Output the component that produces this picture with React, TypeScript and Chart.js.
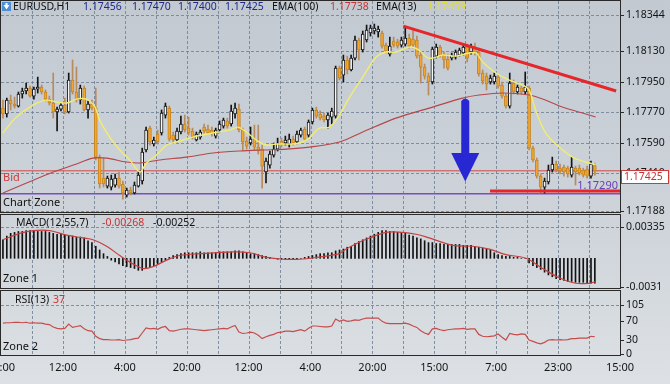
import React, { useEffect, useRef } from 'react';
import { Chart, registerables } from 'chart.js';

Chart.register(...registerables);

// ---------------- data ----------------
const xTickLabels = ['20:00', '12:00', '4:00', '20:00', '12:00', '4:00', '20:00', '15:00', '7:00', '23:00', '15:00'];

const opens = [
  1.17795, 1.17760, 1.17843, 1.17819, 1.17807, 1.17878, 1.17896, 1.17913, 1.17866, 1.17907,
  1.17919, 1.17890, 1.17848, 1.17825, 1.17772, 1.17789, 1.17813, 1.17772, 1.17961, 1.17890,
  1.17843, 1.17913, 1.17784, 1.17819, 1.17795, 1.17506, 1.17382, 1.17335, 1.17329, 1.17341,
  1.17382, 1.17347, 1.17282, 1.17312, 1.17294, 1.17335, 1.17365, 1.17548, 1.17677, 1.17583,
  1.17642, 1.17648, 1.17754, 1.17795, 1.17636, 1.17607, 1.17654, 1.17701, 1.17677, 1.17660,
  1.17607, 1.17624, 1.17683, 1.17671, 1.17666, 1.17630, 1.17666, 1.17689, 1.17719, 1.17701,
  1.17760, 1.17789, 1.17666, 1.17601, 1.17589, 1.17612, 1.17565, 1.17553, 1.17418, 1.17459,
  1.17518, 1.17553, 1.17601, 1.17589, 1.17583, 1.17612, 1.17595, 1.17636, 1.17671, 1.17636,
  1.17713, 1.17784, 1.17760, 1.17748, 1.17725, 1.17742, 1.17748, 1.18031, 1.17990, 1.18079,
  1.18020, 1.18090, 1.18197, 1.18138, 1.18197, 1.18238, 1.18250, 1.18244, 1.18238, 1.18167,
  1.18114, 1.18191, 1.18185, 1.18167, 1.18173, 1.18208, 1.18202, 1.18197, 1.18108, 1.18037,
  1.17984, 1.17949, 1.18102, 1.18155, 1.18114, 1.18084, 1.18090, 1.18096, 1.18108, 1.18120,
  1.18155, 1.18126, 1.18155, 1.18126, 1.18002, 1.17984, 1.17949, 1.17949, 1.17978, 1.17931,
  1.17866, 1.17807, 1.17943, 1.17890, 1.17913, 1.17890, 1.17913, 1.17559, 1.17489, 1.17394,
  1.17329, 1.17359, 1.17430, 1.17465, 1.17441, 1.17447, 1.17441, 1.17400, 1.17441, 1.17441,
  1.17430, 1.17435, 1.17394, 1.17456,
];
const highs = [
  1.17843, 1.17854, 1.17872, 1.17860, 1.17890, 1.17913, 1.17943, 1.17925, 1.17919, 1.17978,
  1.17931, 1.17902, 1.17866, 1.18002, 1.17801, 1.17825, 1.17854, 1.18002, 1.18079, 1.18037,
  1.17931, 1.17925, 1.17837, 1.17843, 1.17913, 1.17518, 1.17500, 1.17394, 1.17400, 1.17406,
  1.17418, 1.17365, 1.17323, 1.17329, 1.17359, 1.17418, 1.17559, 1.17683, 1.17689, 1.17624,
  1.17666, 1.17784, 1.17825, 1.17807, 1.17654, 1.17677, 1.17748, 1.17754, 1.17742, 1.17677,
  1.17654, 1.17666, 1.17701, 1.17695, 1.17683, 1.17677, 1.17719, 1.17736, 1.17736, 1.17813,
  1.17825, 1.17819, 1.17677, 1.17624, 1.17683, 1.17695, 1.17695, 1.17577, 1.17500, 1.17542,
  1.17589, 1.17618, 1.17618, 1.17630, 1.17642, 1.17630, 1.17660, 1.17677, 1.17683, 1.17725,
  1.17795, 1.17801, 1.17778, 1.17766, 1.17766, 1.17795, 1.18043, 1.18043, 1.18108, 1.18102,
  1.18108, 1.18220, 1.18208, 1.18250, 1.18285, 1.18285, 1.18291, 1.18279, 1.18250, 1.18179,
  1.18214, 1.18214, 1.18202, 1.18214, 1.18273, 1.18232, 1.18256, 1.18220, 1.18126, 1.18055,
  1.18002, 1.18155, 1.18173, 1.18167, 1.18126, 1.18114, 1.18120, 1.18138, 1.18149, 1.18167,
  1.18173, 1.18173, 1.18179, 1.18143, 1.18020, 1.18002, 1.17990, 1.18002, 1.17990, 1.17949,
  1.17878, 1.18002, 1.17961, 1.17931, 1.17925, 1.18008, 1.17925, 1.17571, 1.17500, 1.17406,
  1.17382, 1.17459, 1.17506, 1.17483, 1.17465, 1.17459, 1.17453, 1.17506, 1.17453, 1.17459,
  1.17441, 1.17453, 1.17483, 1.17470,
];
const lows = [
  1.17736, 1.17742, 1.17784, 1.17795, 1.17801, 1.17854, 1.17878, 1.17860, 1.17848, 1.17884,
  1.17878, 1.17837, 1.17813, 1.17736, 1.17660, 1.17778, 1.17760, 1.17766, 1.17878, 1.17831,
  1.17819, 1.17778, 1.17736, 1.17784, 1.17489, 1.17323, 1.17329, 1.17323, 1.17312, 1.17329,
  1.17323, 1.17258, 1.17270, 1.17282, 1.17288, 1.17329, 1.17347, 1.17536, 1.17577, 1.17571,
  1.17583, 1.17636, 1.17736, 1.17601, 1.17595, 1.17595, 1.17642, 1.17654, 1.17636, 1.17612,
  1.17601, 1.17612, 1.17648, 1.17642, 1.17630, 1.17618, 1.17654, 1.17677, 1.17677, 1.17689,
  1.17736, 1.17654, 1.17548, 1.17553, 1.17577, 1.17548, 1.17524, 1.17323, 1.17353, 1.17441,
  1.17506, 1.17542, 1.17565, 1.17577, 1.17565, 1.17577, 1.17583, 1.17624, 1.17601, 1.17624,
  1.17701, 1.17736, 1.17725, 1.17713, 1.17677, 1.17701, 1.17736, 1.17961, 1.17949, 1.17996,
  1.18014, 1.18079, 1.18079, 1.18126, 1.18185, 1.18220, 1.18232, 1.18214, 1.18149, 1.18120,
  1.18102, 1.18155, 1.18149, 1.18155, 1.18161, 1.18149, 1.18149, 1.18090, 1.17943, 1.17966,
  1.17872, 1.17937, 1.18090, 1.18096, 1.18031, 1.18020, 1.18079, 1.18084, 1.18102, 1.18108,
  1.18067, 1.18114, 1.18108, 1.17984, 1.17937, 1.17902, 1.17937, 1.17937, 1.17913, 1.17854,
  1.17795, 1.17795, 1.17878, 1.17878, 1.17878, 1.17878, 1.17548, 1.17477, 1.17382, 1.17294,
  1.17294, 1.17347, 1.17418, 1.17418, 1.17406, 1.17394, 1.17388, 1.17388, 1.17341, 1.17400,
  1.17388, 1.17382, 1.17382, 1.17400,
];
const closes = [
  1.17760, 1.17843, 1.17819, 1.17807, 1.17878, 1.17896, 1.17913, 1.17866, 1.17907, 1.17919,
  1.17890, 1.17848, 1.17825, 1.17772, 1.17789, 1.17813, 1.17772, 1.17961, 1.17890, 1.17843,
  1.17913, 1.17784, 1.17819, 1.17795, 1.17506, 1.17347, 1.17347, 1.17382, 1.17376, 1.17382,
  1.17335, 1.17294, 1.17312, 1.17294, 1.17341, 1.17400, 1.17536, 1.17666, 1.17595, 1.17607,
  1.17595, 1.17766, 1.17807, 1.17612, 1.17607, 1.17660, 1.17701, 1.17666, 1.17648, 1.17624,
  1.17642, 1.17654, 1.17660, 1.17648, 1.17642, 1.17666, 1.17701, 1.17725, 1.17689, 1.17778,
  1.17795, 1.17666, 1.17595, 1.17571, 1.17612, 1.17565, 1.17542, 1.17453, 1.17483, 1.17524,
  1.17553, 1.17589, 1.17577, 1.17607, 1.17612, 1.17589, 1.17642, 1.17666, 1.17612, 1.17713,
  1.17784, 1.17748, 1.17736, 1.17725, 1.17754, 1.17778, 1.18031, 1.17972, 1.18079, 1.18020,
  1.18090, 1.18197, 1.18138, 1.18232, 1.18256, 1.18267, 1.18267, 1.18261, 1.18161, 1.18132,
  1.18161, 1.18167, 1.18161, 1.18197, 1.18208, 1.18161, 1.18167, 1.18102, 1.18037, 1.17984,
  1.17949, 1.18143, 1.18155, 1.18108, 1.18079, 1.18031, 1.18108, 1.18126, 1.18138, 1.18155,
  1.18090, 1.18155, 1.18126, 1.17996, 1.17955, 1.17937, 1.17972, 1.17984, 1.17925, 1.17866,
  1.17807, 1.17943, 1.17890, 1.17919, 1.17890, 1.17919, 1.17559, 1.17489, 1.17394, 1.17329,
  1.17365, 1.17430, 1.17465, 1.17430, 1.17424, 1.17418, 1.17406, 1.17447, 1.17418, 1.17412,
  1.17400, 1.17394, 1.17465, 1.17425,
];

const ema13X = [0.5, 4.0, 8.3, 11.8, 14.4, 17.0, 19.5, 22.1, 24.3, 25.5, 28.1, 30.7, 33.3, 35.9, 37.6, 40.2, 42.8, 45.3, 49.6, 54.8, 59.1, 61.2, 63.4, 66.0, 68.6, 71.1, 74.6, 77.2, 79.7, 82.3, 84.9, 87.5, 90.1, 93.5, 97.0, 99.5, 102.1, 105.5, 108.1, 109.9, 111.6, 114.1, 117.6, 121.0, 122.8, 124.5, 127.9, 131.4, 134.8, 136.5, 138.2, 140.8, 144.3, 147.7, 151.1, 153.7];
const ema13Y = [1.17648, 1.17742, 1.17813, 1.17842, 1.17831, 1.17825, 1.17848, 1.17848, 1.17801, 1.17724, 1.17624, 1.17547, 1.17488, 1.17418, 1.17471, 1.17518, 1.17577, 1.17595, 1.17624, 1.17648, 1.17665, 1.17683, 1.17654, 1.17606, 1.17577, 1.17583, 1.17583, 1.17589, 1.17618, 1.17677, 1.17683, 1.17754, 1.17860, 1.17978, 1.18096, 1.18126, 1.18126, 1.18155, 1.18137, 1.18096, 1.18090, 1.18108, 1.18102, 1.18120, 1.18120, 1.18067, 1.18002, 1.17960, 1.17931, 1.17901, 1.17783, 1.17648, 1.17565, 1.17506, 1.17477, 1.17462];

const ema100X = [0.5, 6.6, 13.5, 18.7, 23.8, 27.3, 32.4, 35.9, 41.0, 47.9, 54.8, 61.7, 67.7, 73.7, 79.7, 87.5, 93.5, 102.1, 110.7, 119.3, 123.6, 129.6, 136.5, 140.8, 145.1, 150.3, 153.7];
const ema100Y = [1.17294, 1.17353, 1.17418, 1.17459, 1.17500, 1.17500, 1.17477, 1.17471, 1.17489, 1.17506, 1.17530, 1.17542, 1.17548, 1.17553, 1.17565, 1.17595, 1.17654, 1.17736, 1.17795, 1.17854, 1.17872, 1.17884, 1.17872, 1.17842, 1.17801, 1.17766, 1.17742];

const macdHist = [
  0.0020, 0.0024, 0.0027, 0.0028, 0.0029, 0.0029, 0.0030, 0.0030, 0.0030, 0.0029,
  0.0029, 0.0029, 0.0028, 0.0027, 0.0026, 0.0026, 0.0025, 0.0024, 0.0024, 0.0023,
  0.0023, 0.0022, 0.0019, 0.0017, 0.0013, 0.0009, 0.0005, 0.0002, -0.0002, -0.0004,
  -0.0006, -0.0008, -0.0009, -0.0010, -0.0011, -0.0013, -0.0013, -0.0011, -0.0009, -0.0008,
  -0.0006, -0.0004, -0.0002, 0.0001, 0.0003, 0.0004, 0.0005, 0.0006, 0.0006, 0.0006,
  0.0006, 0.0007, 0.0006, 0.0006, 0.0006, 0.0006, 0.0007, 0.0007, 0.0007, 0.0007,
  0.0008, 0.0008, 0.0007, 0.0006, 0.0005, 0.0005, 0.0004, 0.0003, 0.0002, 0.0001,
  0.0000, -0.0001, -0.0001, -0.0001, -0.0001, -0.0001, -0.0001, 0.0000, 0.0001, 0.0002,
  0.0003, 0.0004, 0.0005, 0.0005, 0.0006, 0.0006, 0.0008, 0.0009, 0.0010, 0.0012,
  0.0013, 0.0016, 0.0018, 0.0020, 0.0022, 0.0024, 0.0026, 0.0028, 0.0030, 0.0030,
  0.0029, 0.0029, 0.0028, 0.0028, 0.0027, 0.0025, 0.0024, 0.0022, 0.0021, 0.0019,
  0.0017, 0.0017, 0.0016, 0.0016, 0.0015, 0.0015, 0.0015, 0.0015, 0.0015, 0.0014,
  0.0014, 0.0014, 0.0013, 0.0012, 0.0011, 0.0010, 0.0009, 0.0006, 0.0004, 0.0003,
  0.0002, 0.0002, 0.0001, 0.0001, 0.0000, 0.0000, -0.0005, -0.0008, -0.0010, -0.0012,
  -0.0015, -0.0018, -0.0020, -0.0022, -0.0023, -0.0024, -0.0025, -0.0025, -0.0026, -0.0026,
  -0.0026, -0.0027, -0.0027, -0.00268,
];
const signalX = [0.5, 4.9, 8.3, 12.6, 17.0, 21.2, 23.8, 27.3, 30.7, 34.1, 36.7, 39.3, 42.8, 46.2, 51.4, 60.0, 64.3, 68.6, 72.9, 77.2, 81.5, 87.5, 89.2, 93.5, 99.5, 103.8, 107.3, 110.7, 116.7, 121.9, 126.2, 130.5, 135.7, 140.0, 144.3, 148.6, 152.0, 153.7];
const signalY = [0.0020, 0.0027, 0.0030, 0.0030, 0.0025, 0.0022, 0.0020, 0.0013, 0.0003, -0.0006, -0.0011, -0.0009, -0.0002, 0.0003, 0.0005, 0.0007, 0.0006, 0.0001, -0.0001, -0.0001, 0.0001, 0.0005, 0.0010, 0.0019, 0.0028, 0.0028, 0.0026, 0.0022, 0.0014, 0.0013, 0.0010, 0.0004, 0.0000, -0.0011, -0.0021, -0.0027, -0.0027, -0.00252];

const rsi = [
  66, 67, 67, 68, 68, 67, 68, 66, 67, 66,
  66, 64, 63, 58, 55, 54, 55, 64, 57, 59,
  61, 54, 50, 49, 38, 33, 31, 31, 30, 30,
  31, 29, 30, 31, 33, 34, 45, 56, 54, 55,
  53, 57, 59, 50, 49, 51, 53, 54, 54, 53,
  52, 51, 50, 51, 52, 53, 54, 55, 54, 58,
  61, 47, 44, 45, 47, 45, 40, 33, 37, 40,
  42, 46, 47, 49, 49, 48, 50, 52, 49, 55,
  60, 60, 59, 58, 58, 60, 75, 70, 73, 70,
  71, 73, 72, 75, 77, 77, 77, 77, 70, 66,
  65, 65, 65, 65, 66, 64, 60, 57, 50, 45,
  42, 54, 55, 52, 50, 52, 53, 54, 54, 55,
  53, 54, 54, 42, 38, 37, 38, 39, 43, 36,
  30, 44, 42, 41, 43, 42, 30, 27, 24, 22,
  25, 30, 31, 30, 31, 30, 31, 33, 33, 34,
  34, 34, 38, 37,
];

const priceTicks = [1.18344, 1.1813, 1.1795, 1.1777, 1.1759, 1.1741, 1.17188];
const priceTickLabels = ['1.18344', '1.18130', '1.17950', '1.17770', '1.17590', '1.17410', '1.17188'];
const macdTicks = [0.00335, -0.0031];
const macdTickLabels = ['0.00335', '-0.0031'];
const rsiTicks = [105, 70, 30, 0];
const rsiTickLabels = ['105', '70', '30', '0'];

const bidPrice = 1.17425;
const bidLabel = '1.17425';
const zonePrice = 1.1729;
const zoneLabel = '1.17290';
const trendX = [104, 159];
const trendY = [1.18279, 1.17896];
const supportX = [126.4, 160];
const supportY = [1.17306, 1.17306];
const arrowX = 120.0;
const arrowTop = 1.17854;
const arrowNeck = 1.1753;
const arrowTip = 1.17362;

const headerOHLC = ['1.17456', '1.17470', '1.17400', '1.17425'];
const ema100Label = '1.17738';
const ema13Label = '1.17459';
const macdMain = '-0.00268';
const macdSignal = '-0.00252';
const rsiValue = '37';

// ---------------- styling ----------------
const FONT = '"Noto Sans", "DejaVu Sans", sans-serif';
const GRID = 'rgba(108,124,146,0.8)';
const FRAME = '#2a2a2a';
const X_MIN = 0;
const X_MAX = 160;
const gridVals = Array.from({ length: 21 }, (_, k) => k * 8);

function txt(ctx: CanvasRenderingContext2D, s: string, x: number, y: number, color: string, size = 10.5, align: CanvasTextAlign = 'left') {
  ctx.fillStyle = color;
  ctx.font = `${size}px ${FONT}`;
  ctx.textAlign = align;
  ctx.textBaseline = 'middle';
  ctx.fillText(s, x, y);
}

function panelPlugin(cfg: { hGrid: number[]; yTicks: number[]; draw?: (c: any) => void; over?: (c: any) => void }) {
  return {
    id: 'panelDeco',
    beforeDatasetsDraw(chart: any) {
      const { ctx, chartArea: a, scales } = chart;
      ctx.save();
      ctx.strokeStyle = GRID;
      ctx.lineWidth = 1;
      ctx.setLineDash([3, 2]);
      ctx.beginPath();
      for (const v of gridVals) {
        const x = Math.round(scales.x.getPixelForValue(v)) + 0.5;
        if (x < a.left + 2 || x > a.right - 2) continue;
        ctx.moveTo(x, a.top);
        ctx.lineTo(x, a.bottom);
      }
      for (const v of cfg.hGrid) {
        const y = Math.round(scales.y.getPixelForValue(v)) + 0.5;
        ctx.moveTo(a.left, y);
        ctx.lineTo(a.right, y);
      }
      ctx.stroke();
      ctx.restore();
    },
    afterDatasetsDraw(chart: any) {
      if (cfg.over) {
        chart.ctx.save();
        cfg.over(chart);
        chart.ctx.restore();
      }
    },
    afterDraw(chart: any) {
      const { ctx, chartArea: a, scales } = chart;
      ctx.save();
      ctx.strokeStyle = FRAME;
      ctx.lineWidth = 1;
      ctx.setLineDash([]);
      ctx.strokeRect(a.left - 0.5, a.top - 0.5, a.right - a.left + 1, a.bottom - a.top + 1);
      ctx.beginPath();
      for (const v of cfg.yTicks) {
        const y = Math.round(scales.y.getPixelForValue(v)) + 0.5;
        ctx.moveTo(a.right, y);
        ctx.lineTo(a.right + 4, y);
      }
      ctx.stroke();
      if (cfg.draw) cfg.draw(chart);
      ctx.restore();
    },
  };
}

function xAxis(showLabels: boolean, height: number) {
  return {
    type: 'linear',
    min: X_MIN,
    max: X_MAX,
    offset: false,
    bounds: 'data',
    grid: { display: false, drawTicks: false, tickLength: 0 },
    border: { display: false },
    afterBuildTicks: (s: any) => {
      s.ticks = gridVals.map((v) => ({ value: v }));
    },
    afterFit: (s: any) => {
      s.height = height;
      s.paddingLeft = 0;
      s.paddingRight = 0;
    },
    ticks: {
      display: showLabels,
      autoSkip: false,
      maxRotation: 0,
      minRotation: 0,
      padding: 6,
      color: '#151515',
      font: { family: FONT, size: 11 },
      callback: (_v: any, i: number) => (i % 2 === 0 ? xTickLabels[i / 2] : ''),
    },
  };
}

function yAxis(min: number, max: number, ticks: number[], labels: string[]) {
  return {
    type: 'linear',
    position: 'right',
    min,
    max,
    bounds: 'data',
    grid: { display: false, drawTicks: false, tickLength: 0 },
    border: { display: false },
    afterBuildTicks: (s: any) => {
      s.ticks = ticks.map((v) => ({ value: v }));
    },
    afterFit: (s: any) => {
      s.width = 50;
      s.paddingTop = 0;
      s.paddingBottom = 0;
    },
    ticks: {
      autoSkip: false,
      padding: 6,
      color: '#151515',
      font: { family: FONT, size: 10.5 },
      callback: (_v: any, i: number) => labels[i],
    },
  };
}

const common = {
  responsive: false,
  maintainAspectRatio: false,
  animation: false,
  devicePixelRatio: 1,
  events: [],
  plugins: { legend: { display: false }, tooltip: { enabled: false } },
};

function priceConfig(): any {
  const cx = closes.map((_, i) => i + 0.5);
  const up = closes.map((c, i) => c >= opens[i]);
  return {
    type: 'bar',
    data: {
      datasets: [
        { type: 'line', data: trendX.map((x, i) => ({ x, y: trendY[i] })), borderColor: '#e5262b', borderWidth: 3, pointRadius: 0, order: 0 },
        { type: 'line', data: supportX.map((x, i) => ({ x, y: supportY[i] })), borderColor: '#e5262b', borderWidth: 3, pointRadius: 0, order: 0 },
        { type: 'line', data: ema13X.map((x, i) => ({ x, y: ema13Y[i] })), borderColor: '#f2ed6e', borderWidth: 1.4, tension: 0.35, pointRadius: 0, order: 1 },
        { type: 'line', data: ema100X.map((x, i) => ({ x, y: ema100Y[i] })), borderColor: '#b4474a', borderWidth: 1.1, tension: 0.3, pointRadius: 0, order: 1 },
        {
          type: 'bar',
          data: cx.map((x, i) => ({ x, y: [opens[i], closes[i]] })),
          backgroundColor: up.map((u) => (u ? '#f7f7f7' : '#f2a531')),
          borderColor: up.map((u) => (u ? '#141414' : '#c7861f')),
          borderWidth: 1,
          borderSkipped: false,
          barThickness: 3,
          minBarLength: 1,
          grouped: false,
          order: 2,
        },
        {
          type: 'bar',
          data: cx.map((x, i) => ({ x, y: [lows[i], highs[i]] })),
          backgroundColor: up.map((u) => (u ? '#141414' : '#b98a5c')),
          borderWidth: 0,
          barThickness: 1,
          grouped: false,
          order: 3,
        },
        { type: 'line', data: [{ x: X_MIN, y: bidPrice }, { x: X_MAX, y: bidPrice }], borderColor: '#d44848', borderWidth: 1, pointRadius: 0, order: 4 },
        { type: 'line', data: [{ x: X_MIN, y: zonePrice }, { x: X_MAX, y: zonePrice }], borderColor: '#7b4dbf', borderWidth: 1.6, pointRadius: 0, order: 4 },
      ],
    },
    options: {
      ...common,
      layout: { padding: { left: 1, top: 1, right: 0, bottom: 0 } },
      scales: { x: xAxis(false, 6), y: yAxis(1.17182, 1.18427, priceTicks, priceTickLabels) },
    },
    plugins: [
      panelPlugin({
        hGrid: priceTicks,
        yTicks: priceTicks,
        over: (chart) => {
          const { ctx, scales } = chart;
          const x = scales.x.getPixelForValue(arrowX);
          const top = scales.y.getPixelForValue(arrowTop);
          const neck = scales.y.getPixelForValue(arrowNeck);
          const tip = scales.y.getPixelForValue(arrowTip);
          ctx.fillStyle = '#2727d4';
          ctx.beginPath();
          ctx.moveTo(x - 4, neck + 1);
          ctx.lineTo(x - 4, top + 3);
          ctx.quadraticCurveTo(x, top - 2, x + 4, top + 3);
          ctx.lineTo(x + 4, neck + 1);
          ctx.closePath();
          ctx.fill();
          ctx.beginPath();
          ctx.moveTo(x - 14, neck);
          ctx.lineTo(x + 14, neck);
          ctx.lineTo(x, tip);
          ctx.closePath();
          ctx.fill();
        },
        draw: (chart) => {
          const { ctx, scales } = chart;
          // header icon
          ctx.fillStyle = '#4c8fd6';
          ctx.fillRect(2, 2, 9, 9);
          ctx.fillStyle = '#ffffff';
          ctx.beginPath();
          ctx.moveTo(3.5, 5);
          ctx.lineTo(9.5, 5);
          ctx.lineTo(6.5, 9.5);
          ctx.closePath();
          ctx.fill();
          ctx.fillRect(5.5, 3, 2, 2.5);
          const hy = 7.5;
          txt(ctx, 'EURUSD,H1', 13, hy, '#111');
          const ohlcX = [83, 132, 178, 225];
          headerOHLC.forEach((s, i) => txt(ctx, s, ohlcX[i], hy, '#1d2a8e'));
          txt(ctx, 'EMA(100)', 272, hy, '#111');
          txt(ctx, ema100Label, 330, hy, '#c83434');
          txt(ctx, 'EMA(13)', 376, hy, '#111');
          txt(ctx, ema13Label, 427, hy, '#e3dc3c');
          // labels in plot
          const yb = Math.round(scales.y.getPixelForValue(bidPrice));
          txt(ctx, 'Bid', 3, yb + 7, '#cc4040', 11);
          txt(ctx, 'Chart Zone', 3, 203, '#111', 11);
          const yz = scales.y.getPixelForValue(zonePrice);
          txt(ctx, zoneLabel, 618, yz - 8, '#6a3db5', 11, 'right');
          // price box
          ctx.fillStyle = '#ffffff';
          ctx.fillRect(621, yb - 1, 48, 14);
          ctx.strokeStyle = '#d03a3a';
          ctx.lineWidth = 1;
          ctx.strokeRect(621.5, yb - 0.5, 47, 13);
          txt(ctx, bidLabel, 624, yb + 6, '#cc3030', 10.5);
        },
      }),
    ],
  };
}

function macdConfig(): any {
  return {
    type: 'bar',
    data: {
      datasets: [
        { type: 'line', data: signalX.map((x, i) => ({ x, y: signalY[i] })), borderColor: '#c73f3f', borderWidth: 1.2, tension: 0.35, pointRadius: 0, order: 0 },
        {
          type: 'bar',
          data: macdHist.map((v, i) => ({ x: i + 0.5, y: v })),
          backgroundColor: '#121212',
          borderWidth: 0,
          barThickness: 1,
          grouped: false,
          order: 1,
        },
      ],
    },
    options: {
      ...common,
      layout: { padding: { left: 1, top: 1, right: 0, bottom: 0 } },
      scales: { x: xAxis(false, 6), y: yAxis(-0.00321, 0.00468, macdTicks, macdTickLabels) },
    },
    plugins: [
      panelPlugin({
        hGrid: [macdTicks[0]],
        yTicks: macdTicks,
        draw: (chart) => {
          const { ctx } = chart;
          txt(ctx, 'MACD(12,55,7)', 16, 9, '#111');
          txt(ctx, macdMain, 102, 9, '#c83434');
          txt(ctx, macdSignal, 153, 9, '#111');
          txt(ctx, 'Zone 1', 3, 65, '#111', 11);
        },
      }),
    ],
  };
}

function rsiConfig(): any {
  return {
    type: 'line',
    data: {
      datasets: [
        { type: 'line', data: rsi.map((v, i) => ({ x: i + 0.5, y: v })), borderColor: '#c64c4c', borderWidth: 1.2, pointRadius: 0, tension: 0 },
      ],
    },
    options: {
      ...common,
      layout: { padding: { left: 1, top: 1, right: 0, bottom: 0 } },
      scales: { x: xAxis(true, 29), y: yAxis(-2.1, 135, rsiTicks, rsiTickLabels) },
    },
    plugins: [
      panelPlugin({
        hGrid: [rsiTicks[0]],
        yTicks: rsiTicks,
        draw: (chart) => {
          const { ctx } = chart;
          txt(ctx, 'RSI(13)', 15, 10, '#111');
          txt(ctx, rsiValue, 53, 10, '#c83434');
          txt(ctx, 'Zone 2', 3, 57, '#111', 11);
        },
      }),
    ],
  };
}

export default function App() {
  const c1 = useRef<HTMLCanvasElement>(null);
  const c2 = useRef<HTMLCanvasElement>(null);
  const c3 = useRef<HTMLCanvasElement>(null);

  useEffect(() => {
    const charts: Chart[] = [];
    if (c1.current) charts.push(new Chart(c1.current, priceConfig()));
    if (c2.current) charts.push(new Chart(c2.current, macdConfig()));
    if (c3.current) charts.push(new Chart(c3.current, rsiConfig()));
    return () => charts.forEach((c) => c.destroy());
  }, []);

  return (
    <div
      style={{
        position: 'absolute',
        left: 0,
        top: 0,
        width: 670,
        height: 384,
        overflow: 'hidden',
        background: 'linear-gradient(to bottom, #c2c9d1 0%, #cdd3d9 55%, #dde1e5 100%)',
      }}
    >
      <canvas ref={c1} width={670} height={218} style={{ position: 'absolute', left: 0, top: 0 }} />
      <canvas ref={c2} width={670} height={80} style={{ position: 'absolute', left: 0, top: 214 }} />
      <canvas ref={c3} width={670} height={94} style={{ position: 'absolute', left: 0, top: 290 }} />
    </div>
  );
}
